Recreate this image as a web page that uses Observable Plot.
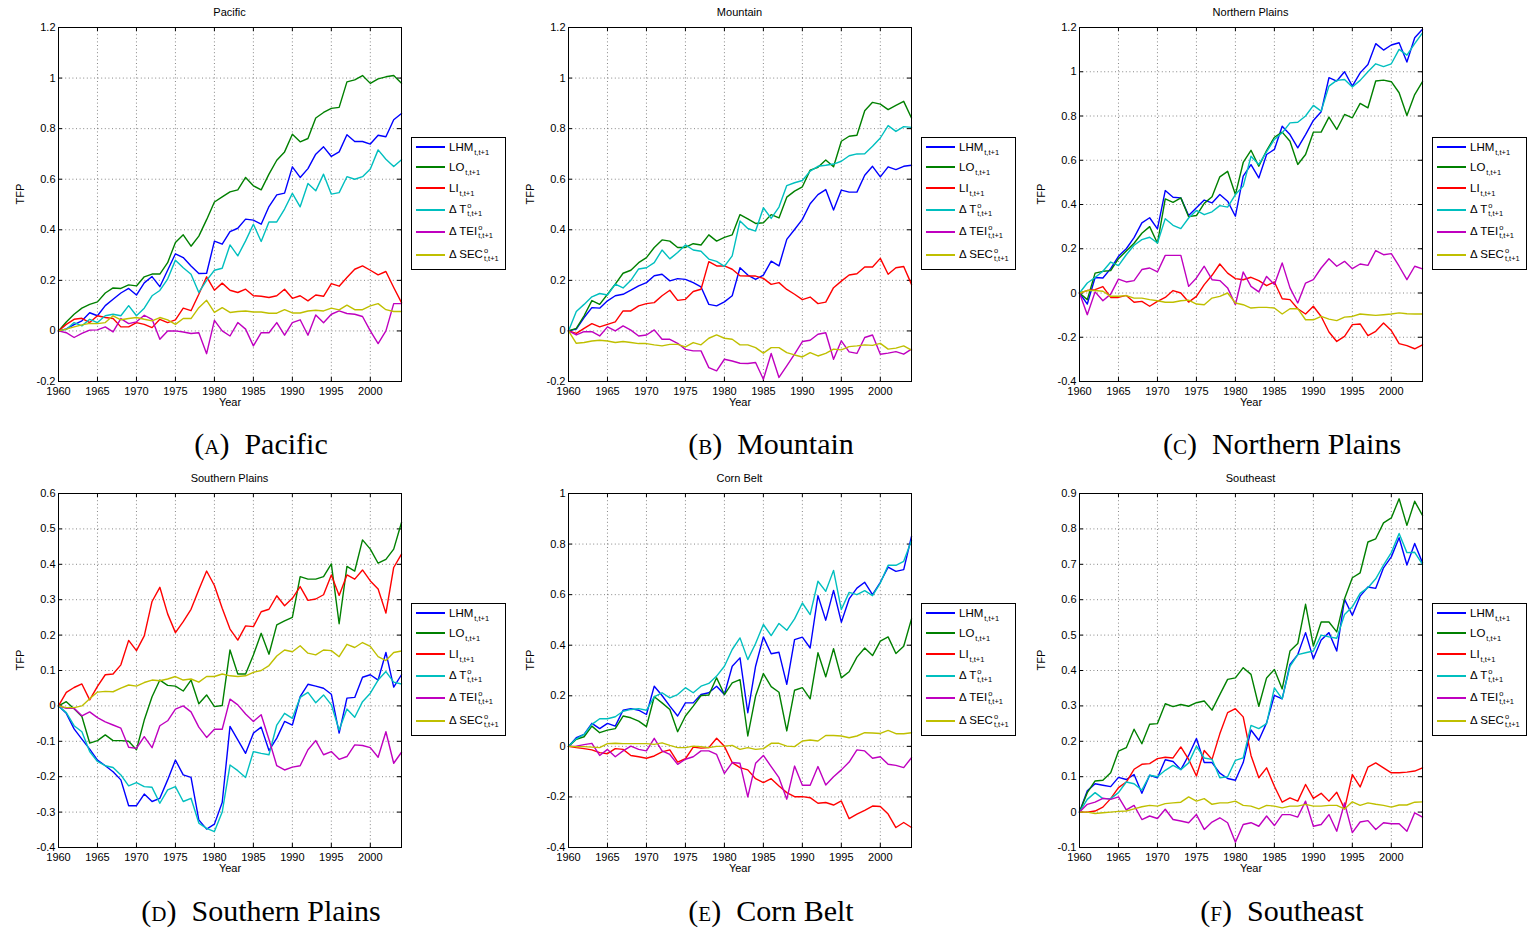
<!DOCTYPE html>
<html>
<head>
<meta charset="utf-8">
<script src="https://cdn.jsdelivr.net/npm/d3@7"></script>
<script src="https://cdn.jsdelivr.net/npm/@observablehq/plot@0.6"></script>
<style>
  html, body { margin: 0; padding: 0; background: #fff; }
  #fig { position: relative; width: 1533px; height: 932px; overflow: hidden; background: #fff; font-family: "Liberation Sans", Arial, sans-serif; }
  .panel { position: absolute; }
  .ptitle { position: absolute; width: 343px; text-align: center; font-size: 11px; line-height: 14px; color: #000; }
  .legend { position: absolute; width: 95px; height: 133px; border: 1px solid #000; background: #fff; box-sizing: border-box; }
  .lrow { position: absolute; left: 0; height: 20px; display: flex; align-items: center; font-size: 11.5px; color: #000; white-space: nowrap; }
  .lline { width: 29px; height: 1.5px; margin-left: 4px; margin-right: 4px; }
  .ss { display: inline-flex; flex-direction: column; font-size: 7.5px; line-height: 8px; vertical-align: middle; margin-left: 1px; }
  .sub { font-size: 7.5px; position: relative; top: 4px; margin-left: 1px; }
  .caption { position: absolute; width: 500px; text-align: center; font-family: "Liberation Serif", "DejaVu Serif", serif; font-size: 30px; line-height: 34px; color: #000; }
  .sc { font-variant: small-caps; }
</style>
</head>
<body>
<div id="fig"></div>
<script>
// ---------------- data ----------------
const years = [1960,1961,1962,1963,1964,1965,1966,1967,1968,1969,1970,1971,1972,1973,1974,1975,1976,1977,1978,1979,1980,1981,1982,
               1983,1984,1985,1986,1987,1988,1989,1990,1991,1992,1993,1994,1995,1996,1997,1998,1999,2000,2001,2002,2003,2004];
const xTicks = [1960,1965,1970,1975,1980,1985,1990,1995,2000];

const seriesNames = ["LHM", "LO", "LI", "dT", "dTEI", "dSEC"];
const seriesColors = ["#0000ff", "#008000", "#ff0000", "#00bfbf", "#bf00bf", "#bfbf00"];

const panelTitles = ["Pacific", "Mountain", "Northern Plains", "Southern Plains", "Corn Belt", "Southeast"];
const panelLetters = ["a", "b", "c", "d", "e", "f"];

const ticksAB = [-0.2,0,0.2,0.4,0.6,0.8,1,1.2];
const ticksC = [-0.4,-0.2,0,0.2,0.4,0.6,0.8,1,1.2];
const ticksD = [-0.4,-0.3,-0.2,-0.1,0,0.1,0.2,0.3,0.4,0.5,0.6];
const ticksE = [-0.4,-0.2,0,0.2,0.4,0.6,0.8,1];
const ticksF = [-0.1,0,0.1,0.2,0.3,0.4,0.5,0.6,0.7,0.8,0.9];

// Pacific
const pacificLHM = [0,0.008,0.025,0.04,0.072,0.06,0.10,0.125,0.15,0.168,0.142,0.19,0.215,0.175,0.24,0.305,0.29,0.257,0.227,0.228,0.355,0.343,0.393,
  0.406,0.442,0.438,0.422,0.492,0.538,0.545,0.649,0.607,0.642,0.699,0.728,0.69,0.708,0.776,0.749,0.749,0.739,0.774,0.768,0.835,0.86];
const pacificLO = [0,0.035,0.066,0.09,0.105,0.115,0.15,0.17,0.168,0.182,0.178,0.214,0.225,0.225,0.27,0.35,0.38,0.335,0.375,0.44,0.51,0.53,0.55,
  0.558,0.607,0.574,0.558,0.62,0.675,0.708,0.778,0.748,0.761,0.842,0.864,0.88,0.884,0.985,0.993,1.01,0.979,0.997,1.005,1.01,0.98];
const pacificLI = [0,0.026,0.046,0.05,0.033,0.06,0.053,0.049,0.016,0.016,0.033,0.026,0.013,0.046,0.033,0.044,0.09,0.08,0.145,0.214,0.161,0.189,0.161,
  0.152,0.165,0.139,0.137,0.132,0.139,0.165,0.129,0.139,0.119,0.142,0.137,0.187,0.177,0.211,0.244,0.257,0.24,0.222,0.235,0.172,0.112];
const pacificDT = [0,0.006,0.033,0.02,0.046,0.033,0.06,0.066,0.06,0.1,0.06,0.09,0.139,0.16,0.205,0.28,0.25,0.224,0.152,0.2,0.24,0.248,0.34,
  0.297,0.356,0.422,0.354,0.431,0.431,0.482,0.544,0.491,0.583,0.554,0.62,0.541,0.547,0.61,0.6,0.61,0.64,0.716,0.679,0.65,0.677];
const pacificDTEI = [0,-0.007,-0.026,-0.01,0.003,0.004,0.016,-0.004,0.049,0.029,0.036,0.062,0.046,-0.033,0,0,-0.004,-0.01,-0.007,-0.09,0.042,0,-0.02,
  0.033,0.007,-0.059,-0.007,-0.007,0.033,-0.017,0.033,0.044,-0.017,0.063,0.032,0.066,0.079,0.069,0.066,0.057,0,-0.05,0,0.108,0.108];
const pacificDSEC = [0,0.007,0.016,0.024,0.03,0.029,0.033,0.06,0.044,0.049,0.053,0.046,0.04,0.053,0.044,0.026,0.049,0.049,0.092,0.121,0.073,0.092,0.073,
  0.077,0.079,0.075,0.075,0.07,0.07,0.084,0.071,0.071,0.079,0.082,0.079,0.09,0.083,0.102,0.084,0.084,0.099,0.108,0.084,0.077,0.077];

// Mountain
const mountainLHM = [0,0.007,0.053,0.092,0.09,0.119,0.139,0.145,0.161,0.178,0.191,0.218,0.224,0.198,0.207,0.204,0.191,0.174,0.105,0.099,0.115,0.139,0.25,
  0.221,0.204,0.221,0.276,0.257,0.362,0.401,0.441,0.503,0.539,0.559,0.478,0.557,0.549,0.549,0.616,0.651,0.609,0.649,0.638,0.651,0.655];
const mountainLO = [0,0.01,0.06,0.12,0.105,0.145,0.185,0.228,0.24,0.27,0.29,0.33,0.36,0.355,0.33,0.33,0.345,0.34,0.38,0.355,0.37,0.38,0.46,
  0.443,0.425,0.428,0.46,0.447,0.529,0.553,0.57,0.636,0.647,0.676,0.649,0.75,0.77,0.774,0.871,0.904,0.897,0.875,0.892,0.908,0.842];
const mountainLI = [0,-0.01,0.01,0.029,0.016,0.026,0.036,0.079,0.079,0.099,0.108,0.112,0.139,0.161,0.121,0.125,0.156,0.165,0.274,0.257,0.257,0.244,0.218,
  0.217,0.217,0.208,0.184,0.191,0.164,0.145,0.124,0.134,0.108,0.114,0.171,0.197,0.221,0.226,0.253,0.253,0.287,0.224,0.25,0.255,0.184];
const mountainDT = [0,0.077,0.105,0.135,0.148,0.142,0.185,0.17,0.2,0.245,0.25,0.27,0.32,0.285,0.31,0.34,0.32,0.315,0.284,0.275,0.255,0.297,0.435,
  0.405,0.395,0.487,0.445,0.49,0.575,0.586,0.595,0.632,0.651,0.655,0.66,0.671,0.693,0.7,0.701,0.73,0.763,0.812,0.789,0.808,0.805];
const mountainDTEI = [0,-0.016,-0.003,-0.003,-0.02,0.016,0,0.02,0.003,-0.02,-0.016,0.004,-0.033,-0.033,-0.049,-0.073,-0.079,-0.079,-0.145,-0.158,-0.112,-0.119,-0.128,
  -0.129,-0.125,-0.191,-0.089,-0.184,-0.138,-0.092,-0.042,-0.037,-0.013,-0.007,-0.112,-0.039,-0.083,-0.089,-0.026,-0.016,-0.092,-0.088,-0.082,-0.092,-0.072];
const mountainDSEC = [0,-0.049,-0.046,-0.04,-0.037,-0.04,-0.046,-0.042,-0.046,-0.05,-0.05,-0.055,-0.059,-0.053,-0.053,-0.063,-0.046,-0.055,-0.029,-0.016,-0.029,-0.033,-0.055,
  -0.055,-0.066,-0.088,-0.066,-0.066,-0.086,-0.095,-0.103,-0.086,-0.099,-0.089,-0.072,-0.075,-0.062,-0.059,-0.055,-0.057,-0.049,-0.072,-0.068,-0.059,-0.076];

// Northern Plains
const northernLHM = [0,-0.05,0.07,0.068,0.11,0.166,0.2,0.25,0.317,0.34,0.29,0.463,0.433,0.43,0.35,0.385,0.42,0.407,0.445,0.415,0.347,0.528,0.58,
  0.52,0.626,0.649,0.754,0.716,0.656,0.716,0.78,0.819,0.973,0.958,1.0,0.935,0.995,1.033,1.127,1.098,1.121,1.131,1.044,1.154,1.192];
const northernLO = [0,-0.03,0.09,0.098,0.101,0.155,0.19,0.225,0.27,0.3,0.225,0.425,0.41,0.43,0.345,0.35,0.405,0.435,0.525,0.55,0.445,0.59,0.645,
  0.573,0.644,0.704,0.727,0.686,0.581,0.626,0.727,0.727,0.795,0.739,0.807,0.792,0.857,0.837,0.958,0.962,0.955,0.905,0.802,0.897,0.955];
const northernLI = [0,0.011,0.015,0.029,-0.02,-0.02,-0.011,-0.042,-0.038,-0.06,-0.038,-0.02,0.011,0,-0.041,-0.015,0.038,0.08,0.131,0.09,0.065,0.06,0.071,
  0.056,0.033,0.05,-0.026,-0.03,-0.071,-0.095,-0.06,-0.106,-0.176,-0.219,-0.196,-0.143,-0.14,-0.193,-0.173,-0.136,-0.17,-0.229,-0.238,-0.252,-0.234];
const northernDT = [0,0.045,0.07,0.098,0.14,0.124,0.173,0.216,0.241,0.252,0.226,0.336,0.306,0.291,0.339,0.373,0.354,0.367,0.395,0.388,0.445,0.483,0.618,
  0.581,0.638,0.694,0.724,0.769,0.772,0.8,0.848,0.822,0.935,0.961,0.965,0.931,0.961,1.0,1.036,1.023,1.036,1.101,1.075,1.127,1.176];
const northernDTEI = [0,-0.098,0.005,-0.035,-0.005,0.063,0.05,0.056,0.106,0.113,0.095,0.17,0.17,0.17,0.03,0.068,0.121,0.06,0.056,0.023,-0.053,0.095,0.03,
  0.005,0.075,0.038,0.136,0.023,-0.045,0.045,0.06,0.113,0.155,0.121,0.143,0.11,0.131,0.125,0.192,0.173,0.178,0.121,0.06,0.121,0.109];
const northernDSEC = [0,0.011,0.011,0.008,-0.015,-0.015,-0.012,-0.023,-0.023,-0.03,-0.035,-0.042,-0.042,-0.035,-0.032,-0.05,-0.053,-0.023,-0.015,0,-0.045,-0.053,-0.068,
  -0.065,-0.065,-0.068,-0.095,-0.071,-0.071,-0.121,-0.121,-0.106,-0.118,-0.125,-0.109,-0.106,-0.095,-0.098,-0.101,-0.098,-0.095,-0.09,-0.094,-0.095,-0.095];

// Southern Plains
const southernLHM = [0,-0.021,-0.065,-0.094,-0.122,-0.153,-0.169,-0.186,-0.209,-0.282,-0.282,-0.249,-0.27,-0.261,-0.209,-0.153,-0.195,-0.202,-0.322,-0.348,-0.334,-0.273,-0.058,
  -0.096,-0.134,-0.077,-0.06,-0.126,-0.091,-0.044,-0.054,0.026,0.061,0.056,0.05,0.033,-0.077,0.022,0.024,0.081,0.088,0.073,0.151,0.053,0.088];
const southernLO = [0,0.012,-0.008,-0.03,-0.105,-0.098,-0.082,-0.098,-0.098,-0.1,-0.124,-0.04,0.026,0.073,0.058,0.056,0.042,0.073,0.006,0.031,-0.002,0.001,0.158,
  0.09,0.09,0.144,0.205,0.146,0.229,0.24,0.25,0.365,0.358,0.358,0.365,0.401,0.232,0.394,0.381,0.469,0.443,0.403,0.414,0.443,0.518];
const southernLI = [0,0.038,0.052,0.062,0.017,0.055,0.088,0.09,0.116,0.185,0.156,0.198,0.295,0.335,0.26,0.207,0.238,0.273,0.328,0.381,0.34,0.276,0.217,
  0.186,0.226,0.224,0.266,0.273,0.311,0.283,0.304,0.337,0.298,0.302,0.314,0.37,0.312,0.37,0.358,0.384,0.353,0.33,0.262,0.391,0.429];
const southernDT = [0,-0.019,-0.056,-0.073,-0.129,-0.157,-0.169,-0.174,-0.195,-0.226,-0.217,-0.228,-0.23,-0.275,-0.237,-0.228,-0.27,-0.261,-0.331,-0.346,-0.355,-0.3,-0.167,
  -0.183,-0.202,-0.129,-0.134,-0.138,-0.054,-0.021,-0.035,0.024,0.038,0.009,0.031,0.003,-0.068,-0.009,-0.032,0.012,0.036,0.073,0.097,0.067,0.062];
const southernDTEI = [0,-0.007,-0.007,-0.028,-0.017,-0.033,-0.045,-0.054,-0.063,-0.117,-0.12,-0.087,-0.118,-0.056,-0.042,-0.009,0,-0.017,-0.06,-0.089,-0.066,-0.066,0.019,
  0.003,-0.023,-0.044,-0.025,-0.095,-0.169,-0.181,-0.173,-0.169,-0.124,-0.098,-0.138,-0.129,-0.151,-0.143,-0.11,-0.112,-0.118,-0.145,-0.073,-0.162,-0.131];
const southernDSEC = [0,-0.005,-0.005,0,0.02,0.039,0.041,0.04,0.05,0.059,0.056,0.066,0.073,0.071,0.076,0.083,0.073,0.076,0.067,0.083,0.083,0.09,0.085,
  0.083,0.085,0.095,0.1,0.114,0.141,0.158,0.153,0.17,0.149,0.144,0.158,0.156,0.139,0.174,0.165,0.179,0.168,0.139,0.128,0.151,0.155];

// Corn Belt
const cornLHM = [0,0.034,0.047,0.091,0.07,0.091,0.08,0.143,0.149,0.143,0.126,0.238,0.201,0.159,0.12,0.172,0.172,0.205,0.212,0.238,0.205,0.317,0.35,
  0.133,0.317,0.433,0.366,0.372,0.245,0.422,0.432,0.389,0.596,0.499,0.617,0.491,0.583,0.626,0.649,0.6,0.649,0.709,0.692,0.699,0.83];
const cornLO = [0,0.028,0.038,0.08,0.054,0.064,0.07,0.12,0.113,0.1,0.078,0.196,0.172,0.146,0.058,0.12,0.159,0.201,0.203,0.271,0.205,0.251,0.264,
  0.041,0.199,0.288,0.236,0.214,0.061,0.222,0.232,0.188,0.37,0.275,0.386,0.271,0.295,0.353,0.389,0.359,0.416,0.433,0.367,0.396,0.504];
const cornLI = [0,-0.005,-0.009,-0.014,-0.025,-0.029,-0.009,-0.012,-0.036,-0.041,-0.047,-0.038,-0.022,-0.014,-0.062,-0.049,-0.003,-0.007,-0.005,0.032,0,-0.064,-0.084,
  -0.093,-0.128,-0.143,-0.128,-0.157,-0.183,-0.199,-0.199,-0.203,-0.225,-0.222,-0.232,-0.216,-0.286,-0.268,-0.253,-0.236,-0.238,-0.268,-0.321,-0.301,-0.321];
const cornDT = [0,0.03,0.047,0.087,0.109,0.109,0.117,0.139,0.146,0.149,0.143,0.196,0.212,0.192,0.205,0.232,0.212,0.238,0.249,0.278,0.317,0.383,0.429,
  0.343,0.407,0.482,0.438,0.486,0.459,0.504,0.567,0.521,0.653,0.613,0.696,0.541,0.609,0.6,0.616,0.596,0.646,0.716,0.716,0.732,0.814];
const cornDTEI = [0,0.001,0.007,0.012,-0.036,-0.012,-0.041,-0.018,0.001,-0.012,-0.018,0.032,-0.018,-0.032,-0.071,-0.051,-0.041,-0.018,-0.018,-0.032,-0.107,-0.064,-0.067,
  -0.2,-0.067,-0.036,-0.08,-0.124,-0.209,-0.078,-0.154,-0.154,-0.08,-0.153,-0.12,-0.093,-0.062,-0.014,-0.018,-0.047,-0.041,-0.071,-0.075,-0.084,-0.045];
const cornDSEC = [0,-0.001,-0.001,-0.003,-0.005,0.011,0.012,0.011,0.011,0.011,0.011,0.008,0.014,0.004,-0.005,-0.005,0.001,-0.001,-0.005,0,0.001,0.004,-0.012,
  -0.005,-0.012,-0.009,0.012,0.012,0.001,-0.001,0.021,0.025,0.021,0.043,0.043,0.041,0.034,0.041,0.054,0.053,0.051,0.063,0.05,0.05,0.054];

// Southeast
const southeastLHM = [0,0.06,0.08,0.076,0.072,0.098,0.092,0.106,0.053,0.104,0.097,0.148,0.143,0.12,0.16,0.208,0.14,0.14,0.11,0.095,0.09,0.14,0.232,
  0.203,0.252,0.33,0.32,0.417,0.445,0.507,0.433,0.486,0.507,0.455,0.601,0.556,0.61,0.636,0.632,0.69,0.721,0.775,0.698,0.759,0.704];
const southeastLO = [0,0.055,0.088,0.09,0.111,0.172,0.182,0.234,0.193,0.248,0.25,0.306,0.298,0.304,0.299,0.309,0.314,0.288,0.332,0.375,0.379,0.408,0.389,
  0.299,0.379,0.403,0.348,0.455,0.476,0.587,0.469,0.537,0.537,0.509,0.603,0.662,0.676,0.763,0.772,0.817,0.831,0.885,0.81,0.878,0.838];
const southeastLI = [0,0,0.003,0.014,0.038,0.069,0.085,0.121,0.135,0.137,0.151,0.155,0.153,0.184,0.149,0.102,0.174,0.149,0.221,0.281,0.292,0.269,0.16,
  0.097,0.125,0.073,0.028,0.04,0.031,0.078,0.039,0.053,0.031,0.056,0.009,0.106,0.071,0.127,0.139,0.125,0.111,0.111,0.113,0.116,0.125];
const southeastDT = [0,0.036,0.055,0.038,0.038,0.055,0.085,0.08,0.062,0.104,0.1,0.118,0.132,0.12,0.139,0.186,0.153,0.149,0.097,0.1,0.146,0.153,0.245,
  0.236,0.25,0.351,0.32,0.412,0.445,0.45,0.455,0.5,0.495,0.491,0.558,0.58,0.618,0.634,0.659,0.698,0.733,0.787,0.733,0.734,0.7];
const southeastDTEI = [0,0.022,0.028,0.039,0.036,0.043,0.006,0.019,-0.021,-0.011,-0.018,0.008,-0.021,-0.025,-0.03,-0.007,-0.049,-0.028,-0.016,-0.03,-0.085,-0.035,-0.03,
  -0.04,-0.011,-0.038,-0.007,-0.007,-0.014,0.031,-0.04,-0.035,-0.007,-0.054,0.026,-0.058,-0.028,-0.024,-0.049,-0.03,-0.033,-0.033,-0.054,-0.002,-0.014];
const southeastDSEC = [0,0,-0.004,-0.002,0,0.002,0.003,0.009,0.015,0.019,0.017,0.024,0.026,0.028,0.043,0.031,0.038,0.022,0.026,0.026,0.031,0.019,0.017,
  0.009,0.019,0.017,0.012,0.017,0.017,0.022,0.017,0.017,0.019,0.019,0.009,0.029,0.019,0.026,0.022,0.019,0.014,0.02,0.02,0.028,0.029];

// ---------------- layout ----------------
const panels = [
  {title: panelTitles[0], letter: panelLetters[0], ticks: ticksAB, series: [pacificLHM, pacificLO, pacificLI, pacificDT, pacificDTEI, pacificDSEC], col: 0, row: 0},
  {title: panelTitles[1], letter: panelLetters[1], ticks: ticksAB, series: [mountainLHM, mountainLO, mountainLI, mountainDT, mountainDTEI, mountainDSEC], col: 1, row: 0},
  {title: panelTitles[2], letter: panelLetters[2], ticks: ticksC, series: [northernLHM, northernLO, northernLI, northernDT, northernDTEI, northernDSEC], col: 2, row: 0},
  {title: panelTitles[3], letter: panelLetters[3], ticks: ticksD, series: [southernLHM, southernLO, southernLI, southernDT, southernDTEI, southernDSEC], col: 0, row: 1},
  {title: panelTitles[4], letter: panelLetters[4], ticks: ticksE, series: [cornLHM, cornLO, cornLI, cornDT, cornDTEI, cornDSEC], col: 1, row: 1},
  {title: panelTitles[5], letter: panelLetters[5], ticks: ticksF, series: [southeastLHM, southeastLO, southeastLI, southeastDT, southeastDTEI, southeastDSEC], col: 2, row: 1}
];

const frameLefts = [58, 568, 1079];
const frameTops = [27, 493];
const captionCenters = [261, 771, 1282];
const captionTops = [427, 894];
const legendTops = [137, 603];
const legendRowCenters = [10, 30, 51, 73, 95, 118];
const W = 343, H = 354;
const mL = 58, mT = 27, mR = 6, mB = 36;

const fmt = d => String(+(+d).toFixed(1));
const fig = document.getElementById("fig");
const problems = [];

function legendHTML() {
  const labels = [
    "LHM<span class='sub'>t,t+1</span>",
    "LO<span class='sub'>t,t+1</span>",
    "LI<span class='sub'>t,t+1</span>",
    "&Delta; T<span class='ss'><span>o</span><span>t,t+1</span></span>",
    "&Delta; TEI<span class='ss'><span>o</span><span>t,t+1</span></span>",
    "&Delta; SEC<span class='ss'><span>o</span><span>t,t+1</span></span>"
  ];
  return labels.map((l, i) =>
    `<div class="lrow" style="top:${legendRowCenters[i] - 11}px"><span class="lline" style="background:${seriesColors[i]}"></span><span>${l}</span></div>`).join("");
}

panels.forEach(p => {
  const fl = frameLefts[p.col], ft = frameTops[p.row];
  const rows = [];
  p.series.forEach((arr, si) => {
    if (arr.length !== years.length) problems.push(p.title + " " + seriesNames[si] + " " + arr.length);
    arr.forEach((v, i) => rows.push({year: years[i], value: v, series: seriesNames[si]}));
  });
  const yDomain = [p.ticks[0], p.ticks[p.ticks.length - 1]];
  const innerX = xTicks.slice(1);
  const innerY = p.ticks.slice(1, -1);
  const marks = [
    Plot.ruleX(innerX, {x: d => d, stroke: "#000", strokeOpacity: 0.6, strokeWidth: 0.8, strokeDasharray: "1,2.6"}),
    Plot.ruleY(innerY, {y: d => d, stroke: "#000", strokeOpacity: 0.6, strokeWidth: 0.8, strokeDasharray: "1,2.6"}),
    Plot.tickX(xTicks, {x: d => d, stroke: "#000", insetTop: H - 4}),
    Plot.tickX(xTicks, {x: d => d, stroke: "#000", insetBottom: H - 4}),
    Plot.tickY(p.ticks, {y: d => d, stroke: "#000", insetRight: W - 4}),
    Plot.tickY(p.ticks, {y: d => d, stroke: "#000", insetLeft: W - 4})
  ];
  seriesNames.forEach((s, si) => {
    marks.push(Plot.line(rows.filter(r => r.series === s), {x: "year", y: "value", stroke: seriesColors[si], strokeWidth: 1.4}));
  });
  marks.push(Plot.frame({stroke: "#000", strokeWidth: 1}));
  marks.push(Plot.text(["Year"], {text: d => d, frameAnchor: "bottom", dy: 24, fontSize: 11}));
  marks.push(Plot.text(["TFP"], {text: d => d, frameAnchor: "left", dx: -38, rotate: -90, fontSize: 11}));

  const chart = Plot.plot({
    width: mL + W + mR,
    height: mT + H + mB,
    marginLeft: mL, marginTop: mT, marginRight: mR, marginBottom: mB,
    x: {domain: [1960, 2004], ticks: xTicks, tickFormat: d => String(d), tickSize: 0, tickPadding: 6, label: null},
    y: {domain: yDomain, ticks: p.ticks, tickFormat: fmt, tickSize: 0, tickPadding: 3, label: null},
    style: {fontFamily: "'Liberation Sans', Arial, sans-serif", fontSize: "11px", color: "#000", background: "transparent", overflow: "visible"},
    marks
  });
  const wrap = document.createElement("div");
  wrap.className = "panel";
  wrap.style.left = (fl - mL) + "px";
  wrap.style.top = (ft - mT) + "px";
  wrap.appendChild(chart);
  fig.appendChild(wrap);

  const t = document.createElement("div");
  t.className = "ptitle";
  t.style.left = fl + "px";
  t.style.top = (ft - 22) + "px";
  t.textContent = p.title;
  fig.appendChild(t);

  const lg = document.createElement("div");
  lg.className = "legend";
  lg.style.left = (fl + W + 10) + "px";
  lg.style.top = legendTops[p.row] + "px";
  lg.innerHTML = legendHTML();
  fig.appendChild(lg);

  const c = document.createElement("div");
  c.className = "caption";
  c.style.left = (captionCenters[p.col] - 250) + "px";
  c.style.top = captionTops[p.row] + "px";
  c.innerHTML = `(<span class="sc">${p.letter}</span>)&nbsp; ${p.title}`;
  fig.appendChild(c);
});

if (problems.length) {
  const e = document.createElement("div");
  e.style.cssText = "position:absolute;left:600px;top:420px;color:red;font-size:14px";
  e.textContent = "LEN: " + problems.join("; ");
  fig.appendChild(e);
}
</script>
</body>
</html>
